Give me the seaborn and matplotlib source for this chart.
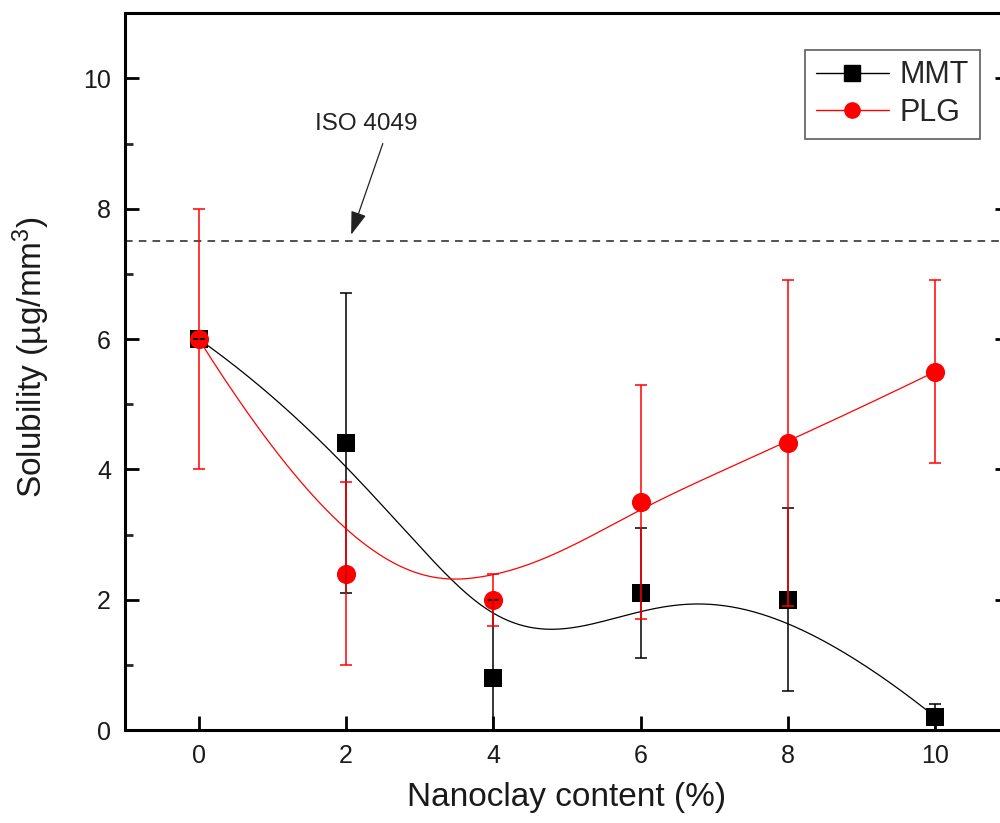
import numpy as np
import pandas as pd
import matplotlib
matplotlib.use("Agg")
import matplotlib.pyplot as plt
import seaborn as sns
from matplotlib.lines import Line2D
from matplotlib.ticker import MultipleLocator

# ---- data ----
nanoclay = [0, 2, 4, 6, 8, 10]
mmt_mean = [6.0, 4.4, 0.8, 2.1, 2.0, 0.2]
mmt_err = [0.0, 2.3, 1.2, 1.0, 1.4, 0.2]
plg_mean = [6.0, 2.4, 2.0, 3.5, 4.4, 5.5]
plg_err = [2.0, 1.4, 0.4, 1.8, 2.5, 1.4]
iso_limit = 7.5
x_ticks = [0, 2, 4, 6, 8, 10]
y_ticks = [0, 2, 4, 6, 8, 10]

sns.set_theme(style="ticks")
plt.rcParams['font.family'] = ['Liberation Sans', 'DejaVu Sans']
plt.rcParams['mathtext.fontset'] = 'custom'
plt.rcParams['mathtext.rm'] = 'Liberation Sans'
plt.rcParams['mathtext.it'] = 'Liberation Sans:italic'


def bspline(cx, cy, k=3, n=300):
    """Clamped B-spline curve using data points as control points (Origin-style smoothing)."""
    cx = np.asarray(cx, float)
    cy = np.asarray(cy, float)
    m = len(cx)
    knots = np.concatenate([np.zeros(k), np.linspace(0, 1, m - k + 1), np.ones(k)])
    t = np.linspace(0, 1, n)
    t[-1] = 1 - 1e-12
    B = np.zeros((n, len(knots) - 1))
    for i in range(len(knots) - 1):
        B[:, i] = (t >= knots[i]) & (t < knots[i + 1])
    for d in range(1, k + 1):
        Bn = np.zeros((n, len(knots) - 1 - d))
        for i in range(len(knots) - 1 - d):
            den1 = knots[i + d] - knots[i]
            den2 = knots[i + d + 1] - knots[i + 1]
            a = (t - knots[i]) / den1 * B[:, i] if den1 > 0 else 0
            b = (knots[i + d + 1] - t) / den2 * B[:, i + 1] if den2 > 0 else 0
            Bn[:, i] = a + b
        B = Bn
    return B @ cx, B @ cy


fig = plt.figure(figsize=(10, 8.23), dpi=100)
ax = fig.add_axes([0.125, 0.113, 0.884, 0.871])

mx, my = bspline(nanoclay, mmt_mean)
px, py = bspline(nanoclay, plg_mean)
curves = pd.concat([
    pd.DataFrame({"x": mx, "y": my, "series": "MMT"}),
    pd.DataFrame({"x": px, "y": py, "series": "PLG"}),
])
sns.lineplot(data=curves, x="x", y="y", hue="series", sort=False,
             palette={"MMT": "black", "PLG": "red"}, linewidth=0.9,
             legend=False, ax=ax, zorder=2)

pts = pd.DataFrame({"x": nanoclay + nanoclay,
                    "y": mmt_mean + plg_mean,
                    "series": ["MMT"] * 6 + ["PLG"] * 6})
sns.scatterplot(data=pts[pts.series == "MMT"], x="x", y="y", marker="s", s=170,
                color="black", edgecolor="black", linewidth=0, legend=False, ax=ax, zorder=3)
sns.scatterplot(data=pts[pts.series == "PLG"], x="x", y="y", marker="o", s=190,
                color="red", edgecolor="red", linewidth=0, legend=False, ax=ax, zorder=4)

ax.errorbar(nanoclay, mmt_mean, yerr=mmt_err, fmt="none", ecolor="black",
            elinewidth=1.1, capsize=4.5, capthick=1.1, zorder=5)
ax.errorbar(nanoclay, plg_mean, yerr=plg_err, fmt="none", ecolor="red",
            elinewidth=1.1, capsize=4.5, capthick=1.1, zorder=5)

ax.axhline(iso_limit, color="#222222", linestyle=(0, (5, 4)), linewidth=1.1, zorder=1)
ax.text(2.27, 9.3, "ISO 4049", ha="center", va="center", fontsize=17.5, color="#222222")
ax.annotate("", xy=(2.07, iso_limit + 0.1), xytext=(2.5, 9.0),
            arrowprops=dict(arrowstyle="-|>,head_length=0.9,head_width=0.3", color="#222222",
                            lw=0.9, mutation_scale=16, shrinkA=0, shrinkB=0))

ax.set_xlim(-1, 11)
ax.set_ylim(0, 11)
ax.set_xticks(x_ticks)
ax.set_yticks(y_ticks)
ax.yaxis.set_minor_locator(MultipleLocator(1))
ax.tick_params(axis="both", which="major", direction="in", length=10, width=2,
               labelsize=18, color="black", labelcolor="#1a1a1a")
ax.tick_params(axis="y", which="major", pad=10, right=True)
ax.tick_params(axis="y", which="minor", direction="in", length=5.5, width=2, left=True, right=False)
ax.tick_params(axis="x", which="major", pad=10, top=False)
for side, sp in ax.spines.items():
    sp.set_linewidth(2.2)
    sp.set_color("black")

ax.set_xlabel("Nanoclay content (%)", fontsize=24, labelpad=10, color="#1a1a1a")
ax.set_ylabel(r"Solubility (µg/mm$^{3}$)", fontsize=24, color="#1a1a1a")
ax.yaxis.set_label_coords(-0.083, 0.52)

handles = [
    Line2D([], [], color="black", lw=1, marker="s", markersize=11, label="MMT"),
    Line2D([], [], color="red", lw=1, marker="o", markersize=11, label="PLG"),
]
leg = ax.legend(handles=handles, loc="upper right", bbox_to_anchor=(0.967, 0.949),
                fontsize=22, frameon=True, fancybox=False, handlelength=2.4,
                handletextpad=0.35, borderpad=0.35, labelspacing=0.25, borderaxespad=0)
leg.get_frame().set_edgecolor("#333333")
leg.get_frame().set_linewidth(1.2)

fig.savefig("out.png", dpi=100)
